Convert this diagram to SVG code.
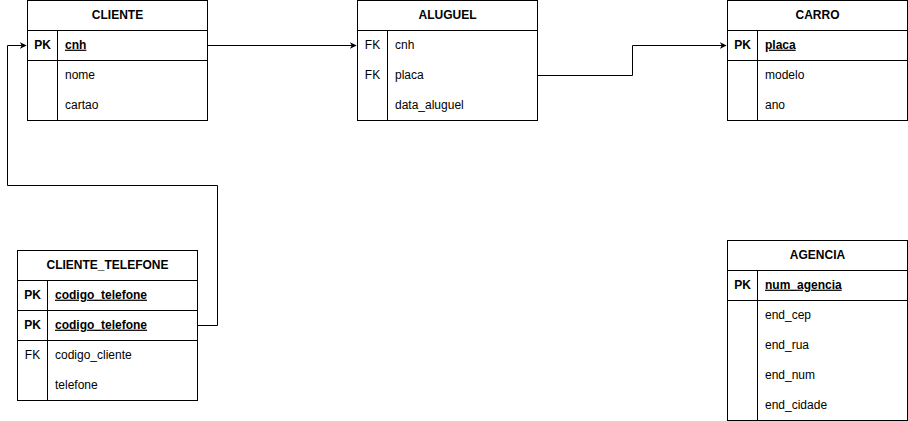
<svg xmlns="http://www.w3.org/2000/svg" width="908" height="421" viewBox="0 0 908 421">
<defs>
<style>
.box{fill:#fff;stroke:#000;stroke-width:1}
.ln{stroke:#000;stroke-width:1;fill:none}
text{font-family:"Liberation Sans",Arial,sans-serif;font-size:12px;fill:#000}
.h{text-anchor:middle;font-weight:bold}
.k{text-anchor:middle}
.pk{font-weight:bold}
.u{text-decoration:underline}
.cn{stroke:#000;stroke-width:1;fill:none;marker-end:url(#arr)}
</style>
<marker id="arr" viewBox="0 0 10 10" refX="9" refY="5" markerWidth="7" markerHeight="7" markerUnits="userSpaceOnUse" orient="auto">
<path d="M0,0 L10,5 L0,10 L3,5 Z" fill="#000"/>
</marker>
</defs>
<rect width="908" height="421" fill="#fff"/>

<g id="connectors">
<path class="cn" d="M207.5,45.5 H356"/>
<path class="cn" d="M537.5,75.5 H632.5 V45.5 H726"/>
<path class="cn" d="M197.5,325.5 H217.5 V185.5 H7.5 V45.5 H26"/>
</g>

<g id="cliente">
<rect class="box" x="27.5" y="0.5" width="180" height="120"/>
<line class="ln" x1="27.5" y1="30.5" x2="207.5" y2="30.5"/>
<line class="ln" x1="27.5" y1="60.5" x2="207.5" y2="60.5"/>
<line class="ln" x1="57.5" y1="30.5" x2="57.5" y2="120.5"/>
<text class="h" x="117.5" y="19.2">CLIENTE</text>
<text class="k pk" x="42.5" y="48.7">PK</text>
<text class="pk u" x="65" y="48.7">cnh</text>
<text x="65" y="78.7">nome</text>
<text x="65" y="108.7">cartao</text>
</g>

<g id="aluguel">
<rect class="box" x="357.5" y="0.5" width="180" height="120"/>
<line class="ln" x1="357.5" y1="30.5" x2="537.5" y2="30.5"/>
<line class="ln" x1="387.5" y1="30.5" x2="387.5" y2="120.5"/>
<text class="h" x="447.5" y="19.2">ALUGUEL</text>
<text class="k" x="372.5" y="48.7">FK</text>
<text x="395" y="48.7">cnh</text>
<text class="k" x="372.5" y="78.7">FK</text>
<text x="395" y="78.7">placa</text>
<text x="395" y="108.7">data_aluguel</text>
</g>

<g id="carro">
<rect class="box" x="727.5" y="0.5" width="180" height="120"/>
<line class="ln" x1="727.5" y1="30.5" x2="907.5" y2="30.5"/>
<line class="ln" x1="727.5" y1="60.5" x2="907.5" y2="60.5"/>
<line class="ln" x1="757.5" y1="30.5" x2="757.5" y2="120.5"/>
<text class="h" x="817.5" y="19.2">CARRO</text>
<text class="k pk" x="742.5" y="48.7">PK</text>
<text class="pk u" x="765" y="48.7">placa</text>
<text x="765" y="78.7">modelo</text>
<text x="765" y="108.7">ano</text>
</g>

<g id="cliente_telefone">
<rect class="box" x="17.5" y="250.5" width="180" height="150"/>
<line class="ln" x1="17.5" y1="280.5" x2="197.5" y2="280.5"/>
<line class="ln" x1="17.5" y1="310.5" x2="197.5" y2="310.5"/>
<line class="ln" x1="17.5" y1="340.5" x2="197.5" y2="340.5"/>
<line class="ln" x1="47.5" y1="280.5" x2="47.5" y2="400.5"/>
<text class="h" x="107.5" y="269.2">CLIENTE_TELEFONE</text>
<text class="k pk" x="32.5" y="298.7">PK</text>
<text class="pk u" x="55" y="298.7">codigo_telefone</text>
<text class="k pk" x="32.5" y="328.7">PK</text>
<text class="pk u" x="55" y="328.7">codigo_telefone</text>
<text class="k" x="32.5" y="358.7">FK</text>
<text x="55" y="358.7">codigo_cliente</text>
<text x="55" y="388.7">telefone</text>
</g>

<g id="agencia">
<rect class="box" x="727.5" y="240.5" width="180" height="180"/>
<line class="ln" x1="727.5" y1="270.5" x2="907.5" y2="270.5"/>
<line class="ln" x1="727.5" y1="300.5" x2="907.5" y2="300.5"/>
<line class="ln" x1="757.5" y1="270.5" x2="757.5" y2="420.5"/>
<text class="h" x="817.5" y="259.2">AGENCIA</text>
<text class="k pk" x="742.5" y="288.7">PK</text>
<text class="pk u" x="765" y="288.7">num_agencia</text>
<text x="765" y="318.7">end_cep</text>
<text x="765" y="348.7">end_rua</text>
<text x="765" y="378.7">end_num</text>
<text x="765" y="408.7">end_cidade</text>
</g>
</svg>
